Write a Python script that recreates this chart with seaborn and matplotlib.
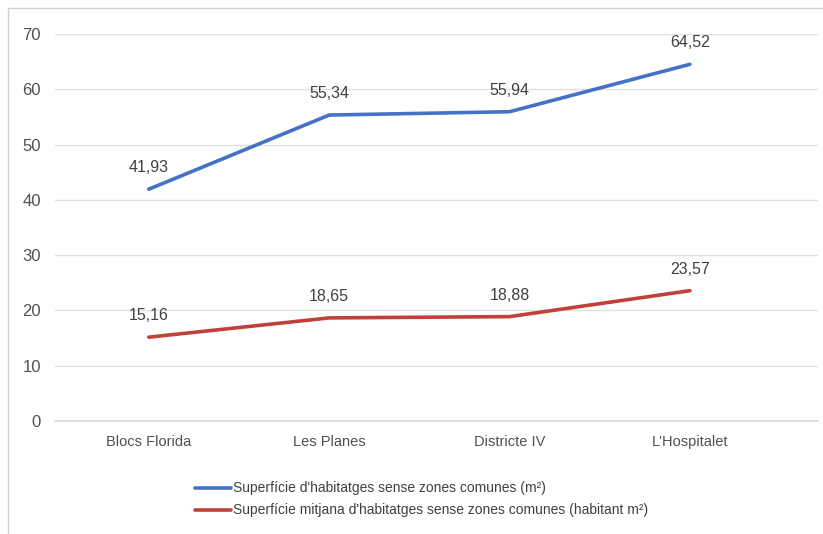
import matplotlib
matplotlib.use("Agg")
import matplotlib.pyplot as plt
import seaborn as sns
import pandas as pd
from matplotlib.patches import Rectangle

# dades
barris = ["Blocs Florida", "Les Planes", "Districte IV", "L'Hospitalet"]
superficie = [41.93, 55.34, 55.94, 64.52]
superficie_hab = [15.16, 18.65, 18.88, 23.57]
series = ["Superfície d'habitatges sense zones comunes (m²)",
          "Superfície mitjana d'habitatges sense zones comunes (habitant m²)"]
colors = ["#4472C4", "#C0413B"]

sns.set_theme(style="white")
plt.rcParams['font.family'] = ['Liberation Sans', 'DejaVu Sans']

df = pd.DataFrame({
    "barri": barris * 2,
    "valor": superficie + superficie_hab,
    "serie": [series[0]] * 4 + [series[1]] * 4,
})
df["x"] = df["barri"].map({b: i for i, b in enumerate(barris)})

fig = plt.figure(figsize=(8.23, 5.34), dpi=100)
fig.patches.append(Rectangle((8 / 823, -0.1), 1.2, (534 - 8) / 534 + 0.1,
                             transform=fig.transFigure, fill=False,
                             edgecolor="#d0d0d0", linewidth=1))
ax = fig.add_axes([55 / 823, 113 / 534, (818 - 55) / 823, (421 - 34) / 534])

sns.lineplot(data=df, x="x", y="valor", hue="serie", palette=colors,
             linewidth=2.6, ax=ax, legend=False)

for vals, col in zip([superficie, superficie_hab], colors):
    for i, v in enumerate(vals):
        ax.annotate(f"{v:.2f}".replace(".", ","), (i, v), xytext=(0, 10),
                    textcoords="offset points", ha="center", va="bottom",
                    fontsize=11.5, color="#404040")

ax.set_xlim(-0.52, 3.71)
ax.set_ylim(0, 70)
ax.set_yticks(range(0, 71, 10))
ax.set_xticks(range(len(barris)))
ax.set_xticklabels(barris)
ax.tick_params(axis="both", length=0, labelsize=10.5, labelcolor="#505050")
ax.tick_params(axis="y", labelsize=12, pad=10)
ax.tick_params(axis="x", pad=10)
ax.yaxis.grid(True, color="#e0e0e0", linewidth=1)
for s in ["top", "right", "left"]:
    ax.spines[s].set_visible(False)
ax.spines["bottom"].set_color("#d9d9d9")
ax.set_xlabel("")
ax.set_ylabel("")

# llegenda
for k, (lab, col) in enumerate(zip(series, colors)):
    y = 1 - 488 / 534 - k * 22 / 534
    fig.add_artist(plt.Line2D([195 / 823, 231 / 823], [y, y], color=col,
                              linewidth=2.6, transform=fig.transFigure))
    fig.text(233 / 823, y, lab, fontsize=10, color="#404040", va="center")

fig.savefig("out.png", dpi=100)
